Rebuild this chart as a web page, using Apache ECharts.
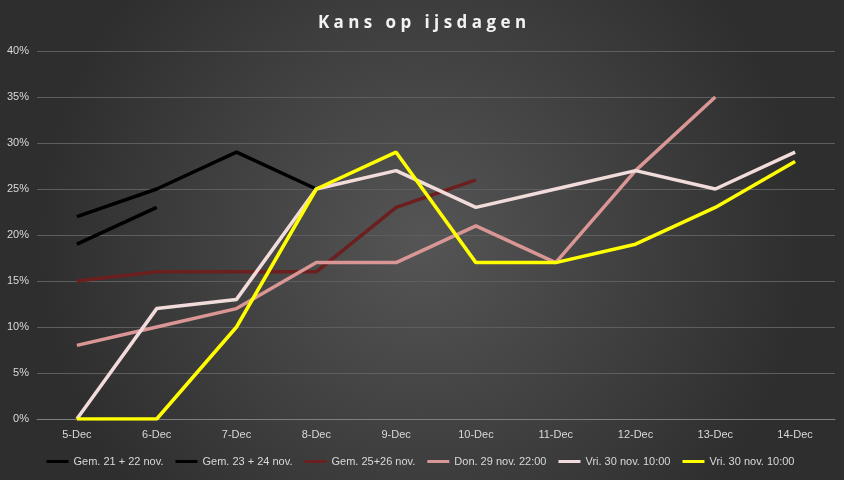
<!DOCTYPE html>
<html>
<head>
<meta charset="utf-8">
<script src="https://cdn.jsdelivr.net/npm/echarts@6/dist/echarts.min.js"></script>
<style>
  html, body { margin: 0; padding: 0; }
  #chart { width: 844px; height: 480px; }
</style>
</head>
<body>
<div id="chart"></div>
<script>
const categories = ['5-Dec', '6-Dec', '7-Dec', '8-Dec', '9-Dec', '10-Dec', '11-Dec', '12-Dec', '13-Dec', '14-Dec'];
const gem2122 = [22, 25, 29, 25, null, null, null, null, null, null];
const gem2324 = [19, 23, null, null, null, null, null, null, null, null];
const gem2526 = [15, 16, 16, 16, 23, 26, null, null, null, null];
const don29 = [8, 10, 12, 17, 17, 21, 17, 27, 35, null];
const vri30a = [0, 12, 13, 25, 27, 23, 25, 27, 25, 29];
const vri30b = [0, 0, 10, 25, 29, 17, 17, 19, 23, 28];

const names = ['Gem. 21 + 22 nov.', 'Gem. 23 + 24 nov.', 'Gem. 25+26 nov.', 'Don. 29 nov. 22:00', 'Vri. 30 nov. 10:00', 'Vri. 30 nov. 10:00 '];
const colors = ['#000000', '#000000', '#6b1f1f', '#d99694', '#f2dcdb', '#ffff00'];
const values = [gem2122, gem2324, gem2526, don29, vri30a, vri30b];

const chart = echarts.init(document.getElementById('chart'));
chart.setOption({
  backgroundColor: {
    type: 'radial', x: 0.5, y: 0.5, r: 0.8,
    colorStops: [{ offset: 0, color: '#555555' }, { offset: 1, color: '#2e2e2e' }]
  },
  title: {
    text: 'K a n s   o p   i j s d a g e n', left: 'center', top: 10,
    textStyle: { color: '#f2f2f2', fontSize: 17, fontWeight: 'bold', fontFamily: 'Open Sans' }
  },
  legend: {
    bottom: 8, left: 'center', itemWidth: 22, itemHeight: 3, itemGap: 12,
    icon: 'rect',
    textStyle: { color: '#d9d9d9', fontSize: 11, fontFamily: 'Liberation Sans' },
    data: names
  },
  grid: { left: 37, right: 9, top: 51, bottom: 61 },
  xAxis: {
    type: 'category', data: categories, boundaryGap: true,
    axisLine: { lineStyle: { color: '#7f7f7f' } },
    axisTick: { show: false },
    axisLabel: { color: '#d9d9d9', fontSize: 11, margin: 10 }
  },
  yAxis: {
    type: 'value', min: 0, max: 40, interval: 5,
    axisLabel: { color: '#d9d9d9', fontSize: 11, formatter: '{value}%' },
    splitLine: { lineStyle: { color: '#5e5e5e' } },
    axisLine: { show: false }, axisTick: { show: false }
  },
  series: values.map((v, i) => ({
    name: names[i], type: 'line', data: v, showSymbol: false, symbol: 'none',
    lineStyle: { width: 3.5, color: colors[i] }, itemStyle: { color: colors[i] },
    connectNulls: false
  }))
});
</script>
</body>
</html>
